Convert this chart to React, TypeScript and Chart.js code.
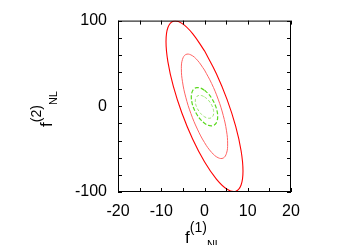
import React, { useEffect, useRef } from "react";
import { Chart, registerables } from "chart.js";

Chart.register(...registerables);

// Axis ranges / labels
const xRange = [-20, 20];
const yRange = [-100, 100];
const xLabelValues = [-20, -10, 0, 10, 20];
const yLabelValues = [-100, 0, 100];
const xTickStep = 5;
const yTickStep = 20;

// Axis titles (main, superscript, subscript)
const xTitleParts = ["f", "(1)", "NL"];
const yTitleParts = ["f", "(2)", "NL"];

// Contours (closed loops)
const outerRedX = [0, 2.75, 5.23, 7.2, 8.46, 8.9, 8.46, 7.2, 5.23, 2.75, 0, -2.75, -5.23, -7.2, -8.46, -8.9, -8.46, -7.2, -5.23, -2.75, 0];
const outerRedY = [64.7, 38.1, 7.8, -23.2, -51.9, -75.6, -91.9, -99.2, -96.8, -84.9, -64.7, -38.1, -7.8, 23.2, 51.9, 75.6, 91.9, 99.2, 96.8, 84.9, 64.7];

const innerRedX = [0, 1.65, 3.15, 4.33, 5.09, 5.35, 5.09, 4.33, 3.15, 1.65, 0, -1.65, -3.15, -4.33, -5.09, -5.35, -5.09, -4.33, -3.15, -1.65, 0];
const innerRedY = [42.3, 26.6, 8.4, -10.6, -28.6, -43.9, -54.8, -60.4, -60.0, -53.8, -42.3, -26.6, -8.4, 10.6, 28.6, 43.9, 54.8, 60.4, 60.0, 53.8, 42.3];

const outerGreenX = [0, 0.94, 1.79, 2.47, 2.9, 3.05, 2.9, 2.47, 1.79, 0.94, 0, -0.94, -1.79, -2.47, -2.9, -3.05, -2.9, -2.47, -1.79, -0.94, 0];
const outerGreenY = [18.7, 14.3, 8.3, 1.6, -5.4, -11.9, -17.2, -21.0, -22.7, -22.3, -19.7, -15.3, -9.3, -2.6, 4.4, 10.9, 16.2, 20.0, 21.7, 21.3, 18.7];

const innerGreenX = [0, 0.66, 1.25, 1.72, 2.03, 2.13, 2.03, 1.72, 1.25, 0.66, 0, -0.66, -1.25, -1.72, -2.03, -2.13, -2.03, -1.72, -1.25, -0.66, 0];
const innerGreenY = [11.0, 8.36, 4.84, 0.8, -3.39, -7.3, -10.55, -12.84, -13.92, -13.7, -12.2, -9.56, -6.04, -2.0, 2.19, 6.1, 9.35, 11.64, 12.72, 12.5, 11.0];

const FONT = '"Liberation Sans", Arial, Helvetica, sans-serif';

function toPoints(xs: number[], ys: number[]) {
  return xs.map((x, i) => ({ x, y: ys[i] }));
}

function drawRich(ctx: CanvasRenderingContext2D, parts: string[], cx: number, cy: number, rotate: boolean) {
  const styles = [
    { size: 17, dy: 0 },
    { size: 14, dy: -11 },
    { size: 11, dy: 4.5 },
  ];
  ctx.save();
  ctx.translate(cx, cy);
  if (rotate) ctx.rotate(-Math.PI / 2);
  let total = 0;
  parts.forEach((p, i) => {
    ctx.font = `${styles[i].size}px ${FONT}`;
    total += ctx.measureText(p).width;
  });
  let x = -total / 2;
  ctx.fillStyle = "#000";
  ctx.textAlign = "left";
  ctx.textBaseline = "alphabetic";
  parts.forEach((p, i) => {
    ctx.font = `${styles[i].size}px ${FONT}`;
    ctx.fillText(p, x, styles[i].dy);
    x += ctx.measureText(p).width;
  });
  ctx.restore();
}

const framePlugin = {
  id: "gnuFrame",
  afterDraw(chart: any) {
    const { ctx, chartArea: a, scales } = chart;
    const xs = scales.x;
    const ys = scales.y;
    const L = 4;
    ctx.save();
    ctx.strokeStyle = "#000";
    ctx.lineWidth = 1;
    ctx.beginPath();
    xs.ticks.forEach((t: any) => {
      const px = Math.round(xs.getPixelForValue(t.value)) + 0.5;
      ctx.moveTo(px, a.bottom);
      ctx.lineTo(px, a.bottom - L);
      ctx.moveTo(px, a.top);
      ctx.lineTo(px, a.top + L);
    });
    ys.ticks.forEach((t: any) => {
      const py = Math.round(ys.getPixelForValue(t.value)) + 0.5;
      ctx.moveTo(a.left, py);
      ctx.lineTo(a.left + L, py);
      ctx.moveTo(a.right, py);
      ctx.lineTo(a.right - L, py);
    });
    ctx.stroke();
    ctx.strokeRect(a.left + 0.5, a.top + 0.5, a.right - a.left - 1, a.bottom - a.top - 1);
    ctx.restore();

    drawRich(ctx, xTitleParts, 203, 243, false);
    drawRich(ctx, yTitleParts, 52, 109, true);
  },
};

export default function App() {
  const ref = useRef<HTMLCanvasElement | null>(null);

  useEffect(() => {
    if (!ref.current) return;
    const base = {
      showLine: true,
      pointRadius: 0,
      pointHoverRadius: 0,
      tension: 0.4,
      fill: false,
    };
    const chart = new Chart(ref.current, {
      type: "scatter",
      data: {
        datasets: [
          { ...base, label: "outer red", data: toPoints(outerRedX, outerRedY), borderColor: "#ff0000", borderWidth: 1.1 },
          { ...base, label: "inner red", data: toPoints(innerRedX, innerRedY), borderColor: "#ff6464", borderWidth: 1 },
          { ...base, label: "outer green", data: toPoints(outerGreenX, outerGreenY), borderColor: "#5ad81e", borderWidth: 1.2, borderDash: [4, 2] },
          { ...base, label: "inner green", data: toPoints(innerGreenX, innerGreenY), borderColor: "#8ee060", borderWidth: 0.9, borderDash: [3, 2] },
        ],
      },
      options: {
        animation: false,
        responsive: false,
        devicePixelRatio: 1,
        layout: { padding: { left: 0, top: 20, right: 59, bottom: 0 } },
        plugins: { legend: { display: false }, tooltip: { enabled: false } },
        scales: {
          x: {
            type: "linear",
            position: "bottom",
            min: xRange[0],
            max: xRange[1],
            grid: { display: false, drawTicks: false },
            border: { display: false },
            ticks: {
              stepSize: xTickStep,
              autoSkip: false,
              maxRotation: 0,
              padding: 10,
              color: "#000",
              font: { size: 16, family: FONT },
              callback: (v: any) => (xLabelValues.includes(Number(v)) ? String(v) : ""),
            },
            afterFit: (s: any) => {
              s.height = 53;
            },
          },
          y: {
            type: "linear",
            min: yRange[0],
            max: yRange[1],
            grid: { display: false, drawTicks: false },
            border: { display: false },
            ticks: {
              stepSize: yTickStep,
              autoSkip: false,
              padding: 11,
              color: "#000",
              font: { size: 16, family: FONT },
              callback: (v: any) => (yLabelValues.includes(Number(v)) ? String(v) : ""),
            },
            afterFit: (s: any) => {
              s.width = 118;
            },
          },
        },
      },
      plugins: [framePlugin],
    });
    return () => chart.destroy();
  }, []);

  return (
    <div style={{ position: "fixed", left: 0, top: 0, width: 350, height: 245, background: "#fff" }}>
      <canvas ref={ref} width={350} height={245} style={{ width: 350, height: 245 }} />
    </div>
  );
}
